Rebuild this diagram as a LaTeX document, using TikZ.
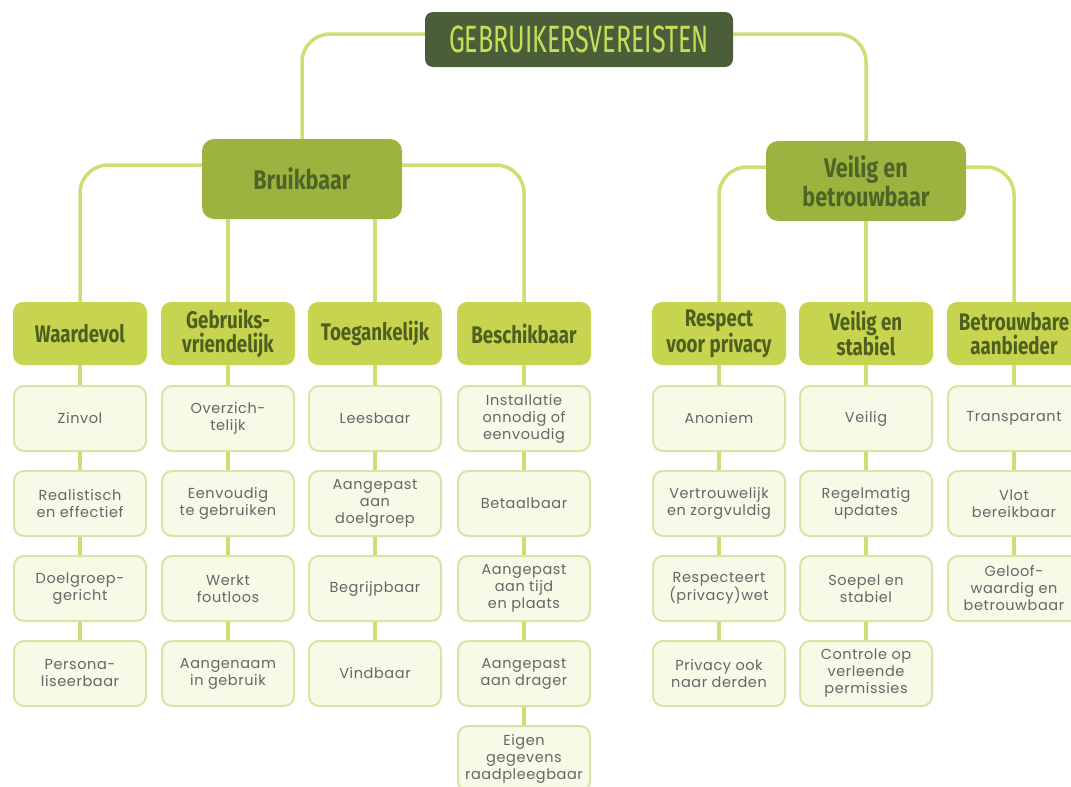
\documentclass[tikz,border=0pt]{standalone}
\usepackage{fontspec}
\setmainfont{Poppins}[LetterSpace=4]
\newfontfamily\rootf{Fira Sans}[FakeStretch=0.66]
\newfontfamily\midf{Fira Sans}[FakeStretch=0.8]
\newfontfamily\catf{Fira Sans}[FakeStretch=0.78]
\definecolor{connc}{HTML}{D0DD72}
\definecolor{rootc}{HTML}{4B5E3A}
\definecolor{roottxt}{HTML}{C8DE58}
\definecolor{midc}{HTML}{9CB43F}
\definecolor{midtxt}{HTML}{4F6428}
\definecolor{catc}{HTML}{C6D450}
\definecolor{cattxt}{HTML}{4F5F1F}
\definecolor{leaffill}{HTML}{F8FAE8}
\definecolor{leafdraw}{HTML}{D9E3A3}
\definecolor{leaftxt}{HTML}{666666}
\tikzset{
  conn/.style={draw=connc, line width=3.5pt, rounded corners=28pt},
  chain/.style={draw=connc, line width=3.5pt},
  rootbox/.style={fill=rootc, rounded corners=8pt, minimum width=308pt, minimum height=55pt, inner sep=2pt, text=roottxt, font=\rootf\fontsize{38}{40}\selectfont},
  midbox/.style={fill=midc, rounded corners=12pt, minimum width=200pt, minimum height=80pt, inner sep=2pt, align=center, text=midtxt, font=\midf\bfseries\fontsize{27}{29}\selectfont},
  catbox/.style={fill=catc, rounded corners=10pt, minimum width=134pt, minimum height=63pt, inner sep=2pt, align=center, text=cattxt, font=\catf\bfseries\fontsize{24}{24}\selectfont},
  leafbox/.style={fill=leaffill, draw=leafdraw, line width=2pt, rounded corners=10pt, minimum width=132pt, minimum height=65pt, inner sep=1pt, align=center, text=leaftxt, font=\fontsize{14.5}{17}\selectfont},
}
\begin{document}
\begin{tikzpicture}[x=1pt,y=-1pt]
\useasboundingbox (0,0) rectangle (1071,787);
\clip (0,0) rectangle (1071,787);
% root
\node[rootbox] (root) at (579,39.5) {GEBRUIKERSVEREISTEN};
% level 2
\node[midbox] (bruik) at (302,179) {Bruikbaar};
\node[midbox] (veil) at (866,181) {Veilig en\\betrouwbaar};
% level 3
\node[catbox] (waard) at (80,333.5) {Waardevol};
\node[catbox] (gebr) at (228,333.5) {Gebruiks-\\vriendelijk};
\node[catbox] (toeg) at (375,333.5) {Toegankelijk};
\node[catbox] (besch) at (524,333.5) {Beschikbaar};
\node[catbox] (resp) at (719,333.5) {Respect\\voor privacy};
\node[catbox] (stab) at (866,333.5) {Veilig en\\stabiel};
\node[catbox] (betr) at (1014,333.5) {Betrouwbare\\aanbieder};
% connectors top
\draw[conn] ([yshift=5.5pt]root.west) -| (bruik.north);
\draw[conn] ([yshift=5.5pt]root.east) -| (veil.north);
\draw[conn] ([yshift=14pt]bruik.west) -| (waard.north);
\draw[conn] ([yshift=14pt]bruik.east) -| (besch.north);
\draw[chain] (bruik.south -| gebr.north) -- (gebr.north);
\draw[chain] (bruik.south -| toeg.north) -- (toeg.north);
\draw[conn] ([yshift=14pt]veil.west) -| (resp.north);
\draw[conn] ([yshift=14pt]veil.east) -| (betr.north);
\draw[chain] (veil.south) -- (stab.north);
% leaves
\foreach \col/\x/\list in {
  waard/80/{Zinvol,Realistisch\\en effectief,Doelgroep-\\gericht,Persona-\\liseerbaar},
  gebr/228/{Overzich-\\telijk,Eenvoudig\\te gebruiken,Werkt\\foutloos,Aangenaam\\in gebruik},
  toeg/375/{Leesbaar,Aangepast\\aan\\doelgroep,Begrijpbaar,Vindbaar},
  besch/524/{Installatie\\onnodig of\\eenvoudig,Betaalbaar,Aangepast\\aan tijd\\en plaats,Aangepast\\aan drager,Eigen\\gegevens\\raadpleegbaar},
  resp/719/{Anoniem,Vertrouwelijk\\en zorgvuldig,Respecteert\\(privacy)wet,Privacy ook\\naar derden},
  stab/866/{Veilig,Regelmatig\\updates,Soepel en\\stabiel,Controle op\\verleende\\permissies},
  betr/1014/{Transparant,Vlot\\bereikbaar,Geloof-\\waardig en\\betrouwbaar}} {
  \foreach \t [count=\i, remember=\i as \j (initially 0)] in \list {
    \node[leafbox] (\col-\i) at (\x,{418.5+85*(\i-1)}) {\t};
    \ifnum\i=1
      \draw[chain] (\col.south) -- (\col-\i.north);
    \else
      \draw[chain] (\col-\j.south) -- (\col-\i.north);
    \fi
  }
}
\end{tikzpicture}
\end{document}
